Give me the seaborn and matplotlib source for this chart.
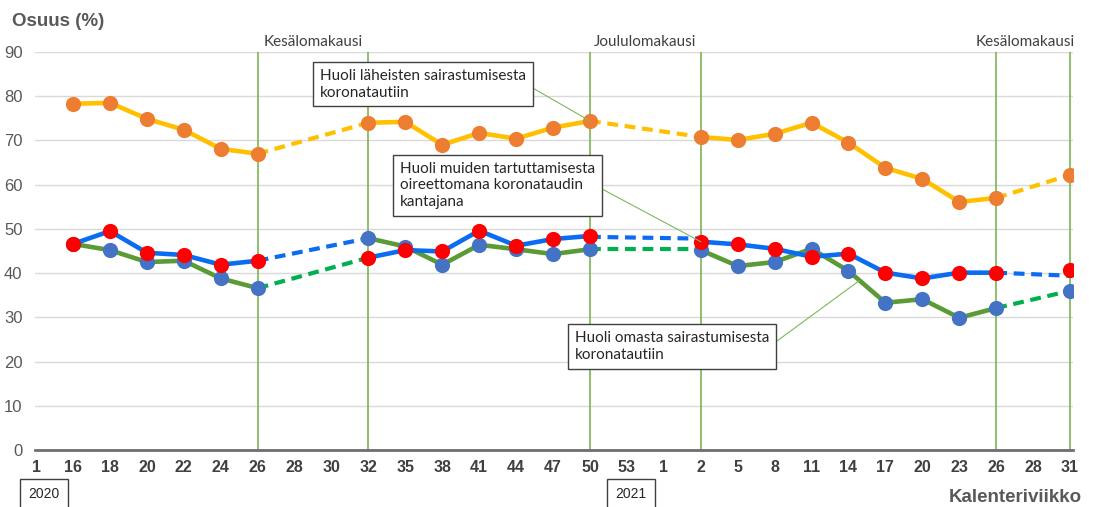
import numpy as np
import pandas as pd
import matplotlib
matplotlib.use("Agg")
import matplotlib.pyplot as plt
import seaborn as sns

nan = np.nan

# calendar weeks 2020-2021 (categorical axis)
weeks = ['1', '16', '18', '20', '22', '24', '26', '28', '30', '32', '35', '38', '41', '44',
         '47', '50', '53', '1', '2', '5', '8', '11', '14', '17', '20', '23', '26', '28', '31']

# Huoli läheisten sairastumisesta koronatautiin
laheiset = [nan, 78.3, 78.5, 74.9, 72.4, 68.1, 67.0, nan, nan, 74.0, 74.2, 69.0, 71.7, 70.4,
            72.9, 74.4, nan, nan, 70.8, 70.1, 71.5, 74.0, 69.5, 63.8, 61.3, 56.1, 57.0, nan, 62.2]
# Huoli muiden tartuttamisesta oireettomana koronataudin kantajana
muut = [nan, 46.6, 49.5, 44.6, 44.1, 41.9, 42.8, nan, nan, 43.5, 45.2, 44.9, 49.6, 46.2,
        47.7, 48.4, nan, nan, 47.1, 46.5, 45.5, 43.7, 44.4, 40.1, 38.8, 40.1, 40.1, nan, 40.6]
# Huoli omasta sairastumisesta koronatautiin
oma = [nan, 46.6, 45.2, 42.5, 42.8, 38.8, 36.6, nan, nan, 47.9, 46.0, 41.9, 46.4, 45.4,
       44.3, 45.4, nan, nan, 45.2, 41.6, 42.5, 45.5, 40.5, 33.3, 34.1, 29.9, 32.1, nan, 36.0]

# dashed bridges over the gaps (pairs of end points)
laheiset_gap = [nan, nan, nan, nan, nan, nan, 67.0, nan, nan, 74.0, nan, nan, nan, nan,
                nan, 74.4, nan, nan, 70.8, nan, nan, nan, nan, nan, nan, nan, 57.0, nan, 62.2]
muut_gap = [nan, nan, nan, nan, nan, nan, 42.8, nan, nan, 47.9, nan, nan, nan, nan,
            nan, 48.2, nan, nan, 47.8, nan, nan, nan, nan, nan, nan, nan, 40.1, nan, 39.4]
oma_gap = [nan, nan, nan, nan, nan, nan, 36.6, nan, nan, 43.5, nan, nan, nan, nan,
           nan, 45.4, nan, nan, 45.4, nan, nan, nan, nan, nan, nan, nan, 32.1, nan, 36.0]

holiday_weeks = [6, 9, 15, 18, 26, 28]  # positions of the vertical lines
holidays = [('Kesälomakausi', 6, 9), ('Joululomakausi', 15, 18), ('Kesälomakausi', 26, 28)]


def solid_frame(values):
    rows, seg, prev = [], 0, False
    for i, v in enumerate(values):
        if np.isnan(v):
            if prev:
                seg += 1
            prev = False
            continue
        rows.append((i, v, seg))
        prev = True
    return pd.DataFrame(rows, columns=['pos', 'value', 'seg'])


def gap_frame(values):
    idx = [i for i, v in enumerate(values) if not np.isnan(v)]
    rows = [(i, values[i], k // 2) for k, i in enumerate(idx)]
    return pd.DataFrame(rows, columns=['pos', 'value', 'seg'])


sns.set_style("white")
plt.rcParams['font.family'] = ['Liberation Sans', 'DejaVu Sans']

fig = plt.figure(figsize=(10.96, 5.07), dpi=100)
ax = fig.add_axes([35 / 1096, 57 / 507, 1038 / 1096, 398 / 507])

GREEN_V = '#70AD47'
for p in holiday_weeks:
    ax.axvline(p, color=GREEN_V, lw=1.1, zorder=1)

series = [
    (laheiset, laheiset_gap, '#FFC000', '#FFC000', 3),
    (oma, oma_gap, '#5B9B35', '#00B050', 3.2),
    (muut, muut_gap, '#0A6CF0', '#0A6CF0', 3.4),
]
for vals, gaps, lc, dc, z in series:
    sns.lineplot(data=solid_frame(vals), x='pos', y='value', units='seg', estimator=None,
                 sort=False, color=lc, lw=3.3, ax=ax, legend=False, zorder=z)
    sns.lineplot(data=gap_frame(gaps), x='pos', y='value', units='seg', estimator=None,
                 sort=False, color=dc, lw=3.0, ax=ax, legend=False, zorder=z,
                 linestyle=(0, (2.6, 1.6)))

for vals, mc, z in [(laheiset, '#ED7D31', 4), (oma, '#4472C4', 4.5), (muut, '#FF0000', 5)]:
    df = solid_frame(vals)
    sns.scatterplot(data=df, x='pos', y='value', color=mc, s=120, linewidth=0, ax=ax,
                    legend=False, zorder=z)

ax.set_xlim(-0.03, 28.08)
ax.set_ylim(0, 90)
ax.set_xticks(range(len(weeks)))
ax.set_xticklabels(weeks, fontsize=11.5, fontweight='bold', color='#404040')
ax.set_yticks(range(0, 91, 10))
ax.set_yticklabels([str(v) for v in range(0, 91, 10)], fontsize=12, color='#595959')
ax.tick_params(axis='x', length=0, pad=7)
ax.tick_params(axis='y', length=0, pad=9)
ax.set_xlabel('')
ax.set_ylabel('')
ax.yaxis.grid(True, color='#D9D9D9', lw=1)
ax.set_axisbelow(True)
for s in ['top', 'left', 'right']:
    ax.spines[s].set_visible(False)
ax.spines['bottom'].set_color('#6E6E6E')
ax.spines['bottom'].set_linewidth(2)

for i, (name, a, b) in enumerate(holidays):
    if i == len(holidays) - 1:
        # last label sits flush against the right edge
        ax.text(b + 0.13, 92.3, name, ha='right', va='center', fontsize=11,
                family='Lato', color='#404040', clip_on=False)
    else:
        ax.text((a + b) / 2, 92.3, name, ha='center', va='center', fontsize=11,
                family='Lato', color='#404040', clip_on=False)

box = dict(boxstyle='square,pad=0.45', fc='white', ec='#404040', lw=1)
line = dict(arrowstyle='-', color='#7DB85A', lw=0.8, relpos=(1, 0.5), shrinkA=0, shrinkB=0)
ax.annotate('Huoli läheisten sairastumisesta\nkoronatautiin', xy=(15, laheiset[15]),
            xytext=(7.69, 86.2), ha='left', va='top', fontsize=11, family='Lato',
            color='#262626', bbox=box, arrowprops=line, zorder=6, linespacing=1.25)
ax.annotate('Huoli muiden tartuttamisesta\noireettomana koronataudin\nkantajana',
            xy=(18, muut[18]), xytext=(9.86, 65.2), ha='left', va='top', fontsize=11,
            family='Lato', color='#262626', bbox=box, arrowprops=line, zorder=6,
            linespacing=1.25)
ax.annotate('Huoli omasta sairastumisesta\nkoronatautiin',
            xy=(22.3, oma[22] + 0.3 * (oma[23] - oma[22])), xytext=(14.6, 26.9),
            ha='left', va='top', fontsize=11, family='Lato', color='#262626', bbox=box,
            arrowprops=line, zorder=6, linespacing=1.25)

fig.text(12 / 1096, 1 - 22 / 507, 'Osuus (%)', fontsize=13.5, fontweight='bold',
         color='#595959', va='center', ha='left')
fig.text(1082 / 1096, 1 - 498 / 507, 'Kalenteriviikko', fontsize=13.5, fontweight='bold',
         color='#595959', va='center', ha='right')

year_box = dict(boxstyle='square,pad=0.6', fc='white', ec='#404040', lw=1)
fig.text(44 / 1096, 1 - 494 / 507, '2020', fontsize=10, color='#262626', ha='center',
         va='center', bbox=year_box)
fig.text(631 / 1096, 1 - 494 / 507, '2021', fontsize=10, color='#262626', ha='center',
         va='center', bbox=year_box)

fig.savefig('out.png', dpi=100)
